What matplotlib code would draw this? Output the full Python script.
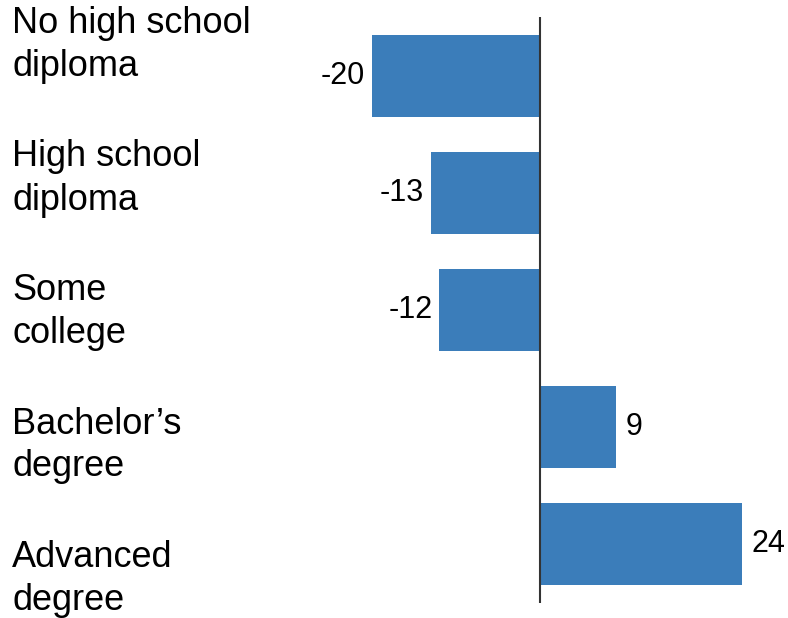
import matplotlib
matplotlib.use("Agg")
import matplotlib.pyplot as plt

# data
categories = [("No high school", "diploma"),
              ("High school", "diploma"),
              ("Some", "college"),
              ("Bachelor\u2019s", "degree"),
              ("Advanced", "degree")]
values = [-20, -13, -12, 9, 24]

W, H = 788, 618
plt.rcParams['font.family'] = ['Liberation Sans', 'DejaVu Sans']

fig = plt.figure(figsize=(W / 100, H / 100), dpi=100)

# axes placed so zero sits at x=540px, rows span y=17..602px
px_per_unit = 8.4
x0, x1 = -20.5, 24.5
left_px = 540 + x0 * px_per_unit
ax = fig.add_axes([left_px / W, 15.5 / H, (x1 - x0) * px_per_unit / W, 585.5 / H])

ypos = list(range(len(values)))
bars = ax.barh(ypos, values, height=0.70, color='#3b7dba')
ax.set_xlim(x0, x1)
ax.set_ylim(len(values) - 0.5, -0.5)
ax.axvline(0, color='#333333', lw=1.5)

for y, v in zip(ypos, values):
    off = 7 if v > 0 else -5
    ax.annotate(str(v), (v, y), xytext=(off, 0), textcoords='offset points',
                ha='left' if v > 0 else 'right', va='center',
                fontsize=22, color='black')

for s in ax.spines.values():
    s.set_visible(False)
ax.set_xticks([])
ax.set_yticks([])

# category labels, two lines each
for i, (l1, l2) in enumerate(categories):
    base = 33 + 133.5 * i
    fig.text(12 / W, 1 - base / H, l1, fontsize=26, va='baseline', ha='left')
    fig.text(12 / W, 1 - (base + 43) / H, l2, fontsize=26, va='baseline', ha='left')

fig.savefig('out.png', dpi=100)
